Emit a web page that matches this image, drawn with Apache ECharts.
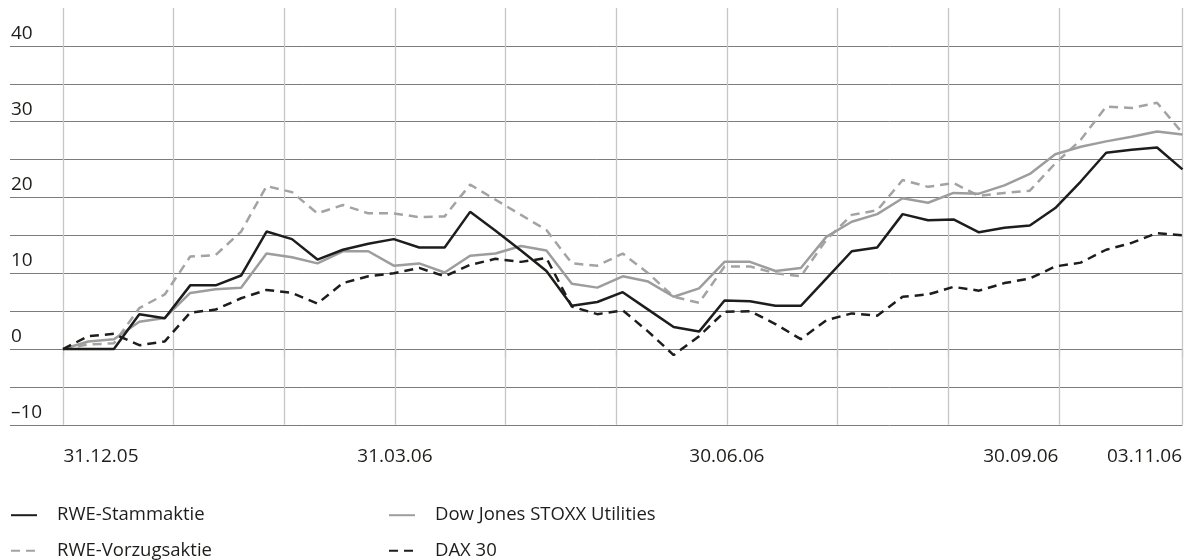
<!DOCTYPE html>
<html>
<head>
<meta charset="utf-8">
<script src="https://cdn.jsdelivr.net/npm/echarts@6/dist/echarts.min.js"></script>
<style>
    html, body { margin: 0; padding: 0; background: #fff; }
    #chart { width: 1194px; height: 560px; }
</style>
</head>
<body>
<div id="chart"></div>
<script>
// weekly performance in %, 31.12.05 .. 03.11.06 (45 weekly closes)
const stamm = [0, 0, 0, 4.6, 4.05, 8.4, 8.4, 9.7, 15.5, 14.5, 11.8, 13.1, 13.9, 14.5,
    13.4, 13.4, 18.1, 15.6, 13.0, 10.3, 5.7, 6.2, 7.5, 5.2, 2.9, 2.3, 6.4, 6.3, 5.7,
    5.7, 9.3, 12.9, 13.4, 17.8, 17.0, 17.1, 15.4, 16.0, 16.3, 18.6, 22.1, 25.9, 26.3, 26.6, 23.7];
const vorzug = [0, 0.6, 0.75, 5.4, 7.2, 12.2, 12.4, 15.5, 21.5, 20.7, 17.9, 19.0, 17.9, 17.9,
    17.4, 17.5, 21.7, 19.7, 17.7, 15.7, 11.3, 11.0, 12.6, 10.0, 6.9, 6.1, 10.9, 10.9, 10.0,
    9.6, 14.4, 17.7, 18.3, 22.3, 21.4, 21.9, 20.2, 20.6, 20.9, 24.5, 27.6, 32.0, 31.8, 32.5, 28.5];
const stoxx = [0, 1.0, 1.3, 3.6, 4.1, 7.4, 7.9, 8.1, 12.6, 12.1, 11.3, 12.9, 12.9, 11.0,
    11.3, 10.1, 12.3, 12.6, 13.6, 13.0, 8.6, 8.1, 9.6, 8.9, 6.9, 8.0, 11.5, 11.5, 10.3,
    10.7, 14.8, 16.8, 17.8, 19.9, 19.3, 20.6, 20.5, 21.6, 23.1, 25.7, 26.7, 27.4, 28.0, 28.7, 28.3];
const dax = [0, 1.7, 2.0, 0.5, 1.0, 4.8, 5.2, 6.7, 7.8, 7.4, 6.0, 8.7, 9.6, 10.0,
    10.7, 9.6, 11.1, 11.9, 11.5, 12.0, 5.6, 4.6, 5.1, 2.3, -0.8, 1.7, 4.9, 5.0, 3.3,
    1.3, 3.8, 4.7, 4.4, 6.9, 7.2, 8.2, 7.7, 8.7, 9.3, 10.9, 11.4, 13.1, 14.0, 15.3, 15.0];

const seriesNames = ['RWE-Stammaktie', 'RWE-Vorzugsaktie', 'Dow Jones STOXX Utilities', 'DAX 30'];

// x axis runs in months since 31.12.05; one week = 7 days
const daysPerMonth = 30.44;
const weekStep = 7 / daysPerMonth;
const lastX = (stamm.length - 1) * weekStep;

// month-end grid lines (31.10. is left out, the last line is 03.11.06)
const monthLines = [0, 1, 2, 3, 4, 5, 6, 7, 8, 9, lastX];
const dateTicks = [0, 3, 6, 9, lastX];
const dateLabels = ['31.12.05', '31.03.06', '30.06.06', '30.09.06', '03.11.06'];
const yLabels = [-10, 0, 10, 20, 30, 40];

const font = 'Open Sans';
const ink = '#1d1d1b';

function toPoints(arr) {
    return arr.map((v, i) => [i * weekStep, v]);
}

// one legend block per entry: two columns, two rows
function legendItem(name, left, top) {
    return {
        left: left, top: top, padding: 0,
        itemWidth: 26, itemHeight: 14,
        selectedMode: false,
        data: [name],
        itemStyle: { opacity: 0 },
        textStyle: { fontSize: 18.5, fontFamily: font, color: ink, padding: [0, 0, 0, 15] }
    };
}

const chart = echarts.init(document.getElementById('chart'));

const labelRich = {
    l: { fontSize: 19, fontFamily: font, color: ink, padding: [0, 0, 0, 76] },
    c: { fontSize: 19, fontFamily: font, color: ink },
    r: { fontSize: 19, fontFamily: font, color: ink, padding: [0, 76, 0, 0] }
};

const option = {
    animation: false,
    grid: [
        { left: 63, right: 11.5, top: 8, bottom: 135.2 },
        { left: 10, right: 11.5, top: 8, bottom: 135.2 }
    ],
    xAxis: [
        {
            gridIndex: 0,
            type: 'value',
            min: 0,
            max: lastX,
            axisLine: { show: false },
            axisTick: {
                show: true,
                length: 8,
                customValues: monthLines,
                lineStyle: { color: '#c6c6c6', width: 1.3 }
            },
            splitLine: { show: true, lineStyle: { color: '#c6c6c6', width: 1.3 } },
            axisLabel: {
                customValues: dateTicks,
                margin: 22,
                fontSize: 19,
                fontFamily: font,
                color: ink,
                rich: labelRich,
                formatter: function (v) {
                    const k = dateTicks.findIndex(t => Math.abs(t - v) < 1e-6);
                    if (k < 0) return '';
                    if (k === 0) return '{l|' + dateLabels[k] + '}';
                    if (k >= dateTicks.length - 2) return '{r|' + dateLabels[k] + '}';
                    return '{c|' + dateLabels[k] + '}';
                }
            }
        },
        { gridIndex: 1, type: 'value', min: 0, max: 1, show: false }
    ],
    yAxis: [
        { gridIndex: 0, type: 'value', min: -10, max: 45, interval: 5, show: false },
        {
            gridIndex: 1,
            type: 'value',
            min: -10,
            max: 45,
            interval: 5,
            axisLine: { show: false },
            axisTick: { show: false },
            splitLine: { show: true, showMaxLine: false, lineStyle: { color: '#7c7c7c', width: 1 } },
            axisLabel: {
                inside: true,
                margin: 1,
                verticalAlign: 'bottom',
                padding: [0, 0, 3, 0],
                fontSize: 19,
                fontFamily: font,
                color: ink,
                formatter: function (v) {
                    if (yLabels.indexOf(v) < 0) return '';
                    return v < 0 ? '\u2013' + Math.abs(v) : String(v);
                }
            }
        }
    ],
    legend: [
        legendItem(seriesNames[0], 10, 505.7),
        legendItem(seriesNames[1], 10, 541.3),
        legendItem(seriesNames[2], 388, 505.7),
        legendItem(seriesNames[3], 388, 541.3)
    ],
    series: [
        {
            name: seriesNames[1], type: 'line', symbol: 'none',
            itemStyle: { color: '#a3a3a3' },
            lineStyle: { color: '#a3a3a3', width: 2.5, type: [9, 6] },
            data: toPoints(vorzug)
        },
        {
            name: seriesNames[2], type: 'line', symbol: 'none',
            itemStyle: { color: '#9d9d9d' },
            lineStyle: { color: '#9d9d9d', width: 2.5 },
            data: toPoints(stoxx)
        },
        {
            name: seriesNames[3], type: 'line', symbol: 'none',
            itemStyle: { color: ink },
            lineStyle: { color: ink, width: 2.5, type: [9, 6] },
            data: toPoints(dax)
        },
        {
            name: seriesNames[0], type: 'line', symbol: 'none',
            itemStyle: { color: ink },
            lineStyle: { color: ink, width: 2.5 },
            data: toPoints(stamm)
        }
    ]
};

chart.setOption(option);
</script>
</body>
</html>
